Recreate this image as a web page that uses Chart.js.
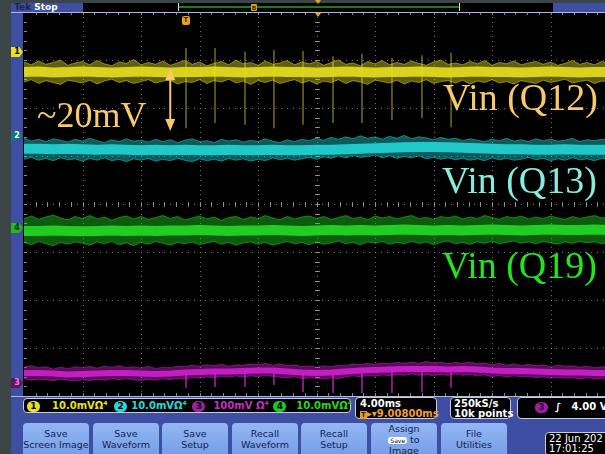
<!DOCTYPE html>
<html><head><meta charset="utf-8">
<script src="https://cdn.jsdelivr.net/npm/chart.js@4.4.1/dist/chart.umd.min.js"></script>
<style>
html,body{margin:0;padding:0}
body{width:605px;height:454px;overflow:hidden;position:relative;background:#3b4548;font-family:"DejaVu Sans",sans-serif}
.a{position:absolute}
#screen{left:23px;top:12px;width:582px;height:385px;background:#000}
#strip{left:11px;top:3px;width:12px;height:395px;background:#3e4ea2}
#bottom{left:11px;top:397px;width:594px;height:57px;background:#3e4ea2}
#tek{left:11px;top:3px;width:72px;height:10px;background:#3e4ea2;font:bold 9px "DejaVu Sans";line-height:9px;color:#fff}
#tek b{color:#1c2450}
#topblack{left:83px;top:3px;width:470px;height:9px;background:#000}
#topblue{left:553px;top:3px;width:52px;height:9px;background:#3e4ea2}
#rec{left:178px;top:3px;width:282px;height:8px;border-left:1px solid #ddd;border-right:1px solid #ddd;box-sizing:border-box}
#recline{left:179px;top:6px;width:280px;height:2px;background:#1f7a1f}
#topline{left:11px;top:12px;width:594px;height:1px;background:#aeb9dc}
#botline{left:11px;top:396px;width:594px;height:1px;background:#aeb9dc}
.mk{width:12px;height:10px;font:bold 8px "DejaVu Sans";line-height:10px;text-align:center;clip-path:polygon(0 0,70% 0,100% 50%,70% 100%,0 100%)}
.note{font-family:"Liberation Serif","DejaVu Serif",serif;line-height:1;white-space:nowrap}
.box{background:#000;border:1px solid #c5cde0;border-radius:4px;box-sizing:border-box;color:#fff;font:bold 10px "DejaVu Sans";white-space:nowrap}
.ci{display:inline-block;width:13px;height:11px;border-radius:6px;text-align:center;line-height:11px;color:#000;font-size:9px;vertical-align:middle}
.btn{top:423px;width:66px;height:40px;border-radius:4px;background:linear-gradient(#93b6f4,#6f98e4);color:#15224e;font:9.5px "DejaVu Sans";line-height:10.5px;text-align:center;padding-top:6px;box-sizing:border-box}
</style></head>
<body>
<div class="a" id="screen"></div>
<div class="a" id="strip"></div>
<div class="a" id="bottom"></div>
<div class="a" id="topblack"></div>
<div class="a" id="topblue"></div>
<div class="a" id="tek">&nbsp;<b>Tek</b> Stop</div>
<div class="a" id="rec"></div>
<div class="a" id="recline"></div>
<div class="a" style="left:251px;top:4px;width:6px;height:7px;background:#e8a020;border-radius:1px;font:bold 6px 'DejaVu Sans';line-height:7px;text-align:center;color:#4a2a00">B</div>
<div class="a" style="left:315px;top:0px;width:0;height:0;border-left:3px solid transparent;border-right:3px solid transparent;border-top:4px solid #f0a020"></div>
<div class="a" id="topline"></div>
<div class="a" id="botline"></div>

<canvas id="scope" class="a" style="left:24px;top:12px" width="585" height="384"></canvas>

<div class="a" style="left:315px;top:13px;width:0;height:0;border-left:3px solid transparent;border-right:3px solid transparent;border-top:4px solid #f0a020"></div>
<div class="a" style="left:182px;top:16px;width:8px;height:9px;background:#e8a020;border-radius:2px;font:bold 7px 'DejaVu Sans';line-height:9px;text-align:center;color:#3a2000">T</div>

<div class="a mk" style="left:11px;top:47px;background:#e8e020;color:#000">1</div>
<div class="a mk" style="left:11px;top:131px;background:#1d6f7c;color:#e6ffff">2</div>
<div class="a mk" style="left:11px;top:223px;background:#22b822;color:#003300">4</div>
<div class="a mk" style="left:11px;top:378px;background:#5a1a5a;color:#ff70ff">3</div>

<div class="a note" style="left:37px;top:97px;font-size:36px;color:#f7c96b">~20mV</div>
<div class="a note" style="left:443px;top:78px;font-size:38px;color:#f7c96b">Vin (Q12)</div>
<div class="a note" style="left:442px;top:161px;font-size:38px;color:#86ecdc">Vin (Q13)</div>
<div class="a note" style="left:442px;top:246px;font-size:38px;color:#20e620">Vin (Q19)</div>

<div class="a box" style="left:23px;top:398px;width:328px;height:15px;padding-left:3px;line-height:13px">
<span class="ci" style="background:#e8e020">1</span><span style="color:#e8e020;margin-left:12px">10.0mVΩ⁴</span>
<span class="ci" style="background:#22d8d8;margin-left:3px">2</span><span style="color:#22d8d8;margin-left:4px">10.0mVΩ⁴</span>
<span class="ci" style="background:#a020a0;margin-left:2px">3</span><span style="color:#c030c0;margin-left:8px">100mV Ω⁴</span>
<span class="ci" style="background:#22c822;margin-left:1px">4</span><span style="color:#22d822;margin-left:10px">10.0mVΩ⁴</span>
</div>
<div class="a box" style="left:355px;top:397px;width:82px;height:22px;padding-left:4px;line-height:10px;padding-top:1px">4.00ms<br><span style="color:#f0a030"><span style="background:#e8a020;color:#3a2000;font-size:7px;padding:0 1px">T</span>▸▾9.00800ms</span></div>
<div class="a box" style="left:450px;top:397px;width:61px;height:22px;padding-left:3px;line-height:10px;padding-top:1px">250kS/s<br>10k points</div>
<div class="a box" style="left:517px;top:397px;width:100px;height:22px;padding-left:17px;line-height:18px"><span class="ci" style="background:#a020a0;color:#300030">3</span>&nbsp;&nbsp;∫&nbsp;&nbsp;&nbsp;4.00 V</div>

<div class="a btn" style="left:23px">Save<br>Screen Image</div>
<div class="a btn" style="left:93px">Save<br>Waveform</div>
<div class="a btn" style="left:162px">Save<br>Setup</div>
<div class="a btn" style="left:232px">Recall<br>Waveform</div>
<div class="a btn" style="left:301px">Recall<br>Setup</div>
<div class="a btn" style="left:371px;padding-top:1px">Assign<br><span style="background:#fff;border-radius:3px;font-size:6px;padding:0 2px;color:#000">Save</span> to<br>Image</div>
<div class="a btn" style="left:441px">File<br>Utilities</div>
<div class="a box" style="left:545px;top:432px;width:70px;height:24px;padding-left:3px;line-height:10px;padding-top:1px;font-weight:normal;border-color:#ccc">22 Jun 202<br>17:01:25</div>

<script>
// Time base: 4.00 ms/div, 10 divisions. Vertical: 8 divisions, values in divisions.
const timeMs = [0,1,2,3,4,5,6,7,8,9,10,11,12,13,14,15,16,17,18,19,20,21,22,23,24,25,26,27,28,29,30,31,32,33,34,35,36,37,38,39,40];
// noise envelope sampled every 0.5 ms
const edgeTimeMs = [0,0.5,1,1.5,2,2.5,3,3.5,4,4.5,5,5.5,6,6.5,7,7.5,8,8.5,9,9.5,10,10.5,11,11.5,12,12.5,13,13.5,14,14.5,15,15.5,16,16.5,17,17.5,18,18.5,19,19.5,20,20.5,21,21.5,22,22.5,23,23.5,24,24.5,25,25.5,26,26.5,27,27.5,28,28.5,29,29.5,30,30.5,31,31.5,32,32.5,33,33.5,34,34.5,35,35.5,36,36.5,37,37.5,38,38.5,39,39.5,40];
const xGridMs = [4,8,12,16,20,24,28,32,36];
const yGridDiv = [-3,-2,-1,0,1,2,3];

// Channel 1 (yellow)
const ch1Hi = [2.96,2.90,2.98,2.91,2.95,3.00,2.89,2.94,2.97,2.90, 2.99,2.92,2.88,2.96,2.93,3.01,2.90,2.95,2.91,2.98, 2.89,2.94,2.99,2.91,2.96,2.88,2.93,2.97,2.90,3.00, 2.92,2.95,2.89,2.98,2.91,2.94,2.99,2.90,2.96,2.92, 2.97,2.89,2.95,3.00,2.91,2.94,2.88,2.97,2.92,2.99, 2.90,2.95,2.91,2.98,2.93,2.89,2.96,3.00,2.91,2.94, 2.90,2.97,2.92,2.99,2.89,2.95,2.92,2.98,2.90,2.94, 2.97,2.91,2.96,2.89,2.93,2.99,2.91,2.95,2.90,2.97, 2.93];
const ch1Lo = [2.54,2.59,2.51,2.57,2.53,2.49,2.58,2.55,2.52,2.58, 2.50,2.56,2.60,2.53,2.57,2.51,2.55,2.59,2.52,2.56, 2.58,2.50,2.55,2.53,2.59,2.51,2.57,2.54,2.60,2.52, 2.56,2.49,2.57,2.53,2.58,2.51,2.55,2.59,2.52,2.57, 2.50,2.56,2.53,2.59,2.51,2.57,2.54,2.49,2.58,2.55, 2.52,2.58,2.50,2.56,2.53,2.59,2.51,2.55,2.57,2.52, 2.58,2.50,2.56,2.53,2.59,2.52,2.55,2.50,2.57,2.54, 2.51,2.58,2.53,2.56,2.60,2.52,2.55,2.58,2.51,2.56, 2.55];
const ch1Mid = [2.75,2.76,2.74,2.75,2.76,2.75,2.74,2.75,2.76,2.75,2.74,2.75,2.75,2.76,2.75,2.74,2.75,2.76,2.75,2.75,2.74,2.75,2.76,2.75,2.74,2.75,2.75,2.76,2.75,2.74,2.75,2.76,2.75,2.75,2.74,2.75,2.76,2.75,2.74,2.75,2.75];

// Channel 2 (cyan)
const ch2Hi = [1.37,1.31,1.35,1.30,1.36,1.33,1.29,1.35,1.31,1.37, 1.32,1.28,1.34,1.30,1.36,1.31,1.33,1.29,1.35,1.30, 1.34,1.28,1.33,1.36,1.30,1.32,1.28,1.35,1.31,1.34, 1.29,1.33,1.30,1.36,1.31,1.28,1.34,1.30,1.35,1.32, 1.37,1.33,1.39,1.35,1.40,1.36,1.42,1.37,1.40,1.35, 1.41,1.37,1.43,1.36,1.40,1.38,1.34,1.39,1.35,1.37, 1.32,1.36,1.33,1.30,1.35,1.32,1.37,1.31,1.34,1.30, 1.36,1.32,1.35,1.31,1.33,1.37,1.30,1.34,1.32,1.35, 1.33];
const ch2Lo = [0.93,0.97,0.91,0.95,0.90,0.96,0.92,0.94,0.89,0.95, 0.91,0.96,0.90,0.93,0.88,0.94,0.91,0.95,0.89,0.93, 0.90,0.95,0.91,0.88,0.94,0.90,0.93,0.89,0.95,0.91, 0.94,0.89,0.93,0.90,0.96,0.92,0.95,0.91,0.94,0.97, 0.93,0.98,0.95,1.00,0.96,1.01,0.97,0.99,1.02,0.96, 1.00,0.95,0.99,0.96,1.00,0.94,0.97,0.93,0.96,0.92, 0.95,0.91,0.94,0.90,0.96,0.92,0.95,0.91,0.93,0.97, 0.92,0.95,0.90,0.94,0.91,0.96,0.92,0.94,0.90,0.95, 0.93];
const ch2Mid = [1.15,1.15,1.14,1.15,1.14,1.13,1.14,1.13,1.12,1.13,1.12,1.13,1.12,1.12,1.13,1.12,1.12,1.13,1.12,1.12,1.13,1.13,1.14,1.15,1.16,1.17,1.18,1.19,1.19,1.18,1.17,1.16,1.15,1.14,1.14,1.13,1.13,1.14,1.13,1.13,1.13];

// Channel 4 (green)
const ch4Hi = [-0.30,-0.25,-0.32,-0.27,-0.23,-0.29,-0.33,-0.26,-0.30,-0.24, -0.31,-0.27,-0.34,-0.28,-0.25,-0.31,-0.26,-0.32,-0.28,-0.24, -0.30,-0.26,-0.33,-0.29,-0.25,-0.31,-0.27,-0.34,-0.28,-0.26, -0.32,-0.27,-0.30,-0.24,-0.29,-0.33,-0.26,-0.31,-0.27,-0.25, -0.30,-0.26,-0.32,-0.28,-0.24,-0.30,-0.27,-0.33,-0.25,-0.29, -0.26,-0.31,-0.27,-0.24,-0.30,-0.28,-0.32,-0.26,-0.29,-0.25, -0.31,-0.27,-0.30,-0.24,-0.28,-0.32,-0.26,-0.29,-0.25,-0.31, -0.27,-0.30,-0.25,-0.29,-0.32,-0.26,-0.30,-0.27,-0.24,-0.29, -0.27];
const ch4Lo = [-0.80,-0.85,-0.78,-0.83,-0.87,-0.80,-0.84,-0.79,-0.82,-0.86, -0.79,-0.83,-0.78,-0.85,-0.81,-0.87,-0.80,-0.84,-0.78,-0.82, -0.86,-0.80,-0.83,-0.79,-0.85,-0.81,-0.78,-0.84,-0.80,-0.86, -0.81,-0.79,-0.84,-0.80,-0.86,-0.82,-0.78,-0.83,-0.80,-0.85, -0.79,-0.84,-0.81,-0.77,-0.83,-0.80,-0.85,-0.79,-0.82,-0.78, -0.84,-0.80,-0.83,-0.78,-0.82,-0.79,-0.85,-0.80,-0.77,-0.83, -0.80,-0.84,-0.79,-0.82,-0.78,-0.83,-0.80,-0.77,-0.82,-0.79, -0.83,-0.78,-0.81,-0.84,-0.79,-0.82,-0.78,-0.81,-0.79,-0.83, -0.80];
const ch4Mid = [-0.56,-0.56,-0.55,-0.56,-0.57,-0.56,-0.55,-0.56,-0.55,-0.56,-0.55,-0.55,-0.54,-0.55,-0.56,-0.55,-0.55,-0.54,-0.55,-0.56,-0.55,-0.54,-0.55,-0.54,-0.55,-0.54,-0.53,-0.54,-0.55,-0.54,-0.55,-0.54,-0.53,-0.54,-0.55,-0.54,-0.53,-0.54,-0.54,-0.53,-0.54];

// Channel 3 (magenta)
const ch3Hi = [-3.40,-3.37,-3.41,-3.39,-3.44,-3.40,-3.43,-3.39,-3.41,-3.38, -3.42,-3.38,-3.40,-3.37,-3.41,-3.39,-3.42,-3.38,-3.43,-3.40, -3.41,-3.38,-3.39,-3.36,-3.38,-3.35,-3.37,-3.34,-3.38,-3.35, -3.36,-3.33,-3.35,-3.32,-3.36,-3.33,-3.37,-3.35,-3.39,-3.37, -3.40,-3.37,-3.39,-3.36,-3.37,-3.33,-3.35,-3.32,-3.34,-3.31, -3.33,-3.30,-3.32,-3.29,-3.32,-3.28,-3.31,-3.29,-3.33,-3.30, -3.32,-3.29,-3.33,-3.31,-3.35,-3.32,-3.36,-3.33,-3.37,-3.34, -3.37,-3.35,-3.39,-3.36,-3.38,-3.37,-3.40,-3.38,-3.41,-3.39, -3.40];
const ch3Lo = [-3.64,-3.67,-3.65,-3.66,-3.68,-3.65,-3.67,-3.69,-3.66,-3.68, -3.65,-3.67,-3.64,-3.66,-3.63,-3.66,-3.68,-3.65,-3.67,-3.64, -3.66,-3.63,-3.65,-3.61,-3.63,-3.60,-3.62,-3.59,-3.61,-3.58, -3.61,-3.58,-3.60,-3.57,-3.59,-3.61,-3.62,-3.60,-3.64,-3.62, -3.63,-3.65,-3.62,-3.64,-3.60,-3.58,-3.60,-3.57,-3.59,-3.56, -3.58,-3.55,-3.57,-3.54,-3.57,-3.55,-3.58,-3.55,-3.57,-3.54, -3.57,-3.55,-3.58,-3.56,-3.60,-3.57,-3.61,-3.58,-3.60,-3.59, -3.62,-3.60,-3.63,-3.61,-3.63,-3.62,-3.65,-3.62,-3.64,-3.63, -3.64];
const ch3Mid = [-3.52,-3.52,-3.53,-3.55,-3.54,-3.53,-3.52,-3.52,-3.53,-3.54,-3.53,-3.51,-3.50,-3.49,-3.49,-3.48,-3.47,-3.47,-3.49,-3.51,-3.52,-3.51,-3.49,-3.47,-3.46,-3.45,-3.44,-3.44,-3.44,-3.45,-3.44,-3.45,-3.47,-3.48,-3.48,-3.49,-3.50,-3.51,-3.51,-3.52,-3.52];

// Switching glitches
const spikeTimes   = [11.08,13.06,15.11,17.09,19.08,21.13,23.11,25.16,27.21,29.20];
const ch1SpikeTop  = [3.25,3.25,3.17,3.21,3.19,3.08,3.13,3.04,3.10,3.15];
const ch1SpikeLow  = [1.58,1.69,1.65,1.58,1.65,1.69,1.69,1.75,1.79,1.60];
const ch3SpikeTop  = [-3.52,-3.50,-3.48,-3.47,-3.51,-3.51,-3.47,-3.45,-3.44,-3.45];
const ch3SpikeLow  = [-3.83,-3.81,-3.81,-3.77,-3.92,-3.94,-3.94,-3.94,-3.92,-3.83];

// Amplitude marker (ms, div)
const arrowAt = 10.0, arrowTop = 2.83, arrowBottom = 1.52;

const pts = (t, arr) => arr.map((v, i) => ({x: t[i], y: v}));
const spikes = (top, low) => {
  const out = [];
  spikeTimes.forEach((t, i) => { out.push({x: t, y: top[i]}, {x: t, y: low[i]}, {x: t, y: null}); });
  return out;
};

function trace(hi, lo, mid, rgb, core) {
  return [
    {data: pts(edgeTimeMs, hi), borderColor: `rgba(${rgb},0.5)`, borderWidth: 1, fill: false},
    {data: pts(edgeTimeMs, lo), borderColor: `rgba(${rgb},0.5)`, borderWidth: 1, fill: '-1', backgroundColor: `rgba(${rgb},0.42)`},
    {data: pts(timeMs, mid), borderColor: `rgba(${rgb},0.9)`, borderWidth: core, fill: false}
  ];
}

const graticule = {
  id: 'graticule',
  beforeDatasetsDraw(chart) {
    const {ctx, chartArea: a, scales: {x, y}} = chart;
    ctx.save();
    ctx.fillStyle = 'rgba(150,150,150,0.75)';
    xGridMs.forEach(t => {
      const px = Math.round(x.getPixelForValue(t));
      const step = (y.getPixelForValue(-4) - y.getPixelForValue(4)) / 80;
      for (let k = 1; k < 80; k++) ctx.fillRect(px, Math.round(a.top + k * step), 1, 1);
    });
    yGridDiv.forEach(d => {
      const py = Math.round(y.getPixelForValue(d));
      const step = (x.getPixelForValue(40) - x.getPixelForValue(0)) / 100;
      for (let k = 1; k < 100; k++) ctx.fillRect(Math.round(a.left + k * step), py, 1, 1);
    });
    ctx.fillStyle = 'rgba(170,170,170,0.8)';
    const cx = Math.round(x.getPixelForValue(20)), cy = Math.round(y.getPixelForValue(0));
    for (let k = 1; k < 50; k++) {
      const px = Math.round(x.getPixelForValue(k * 0.8));
      ctx.fillRect(px, cy - 2, 1, 5);
      ctx.fillRect(px, a.top, 1, 3);
      ctx.fillRect(px, a.bottom - 3, 1, 3);
    }
    for (let k = 1; k < 40; k++) {
      const py = Math.round(y.getPixelForValue(-4 + k * 0.2));
      ctx.fillRect(cx - 2, py, 5, 1);
      ctx.fillRect(a.left, py, 3, 1);
    }
    ctx.restore();
  },
  afterDatasetsDraw(chart) {
    const {ctx, scales: {x, y}} = chart;
    const px = x.getPixelForValue(arrowAt);
    const t = y.getPixelForValue(arrowTop), b = y.getPixelForValue(arrowBottom);
    ctx.save();
    ctx.strokeStyle = ctx.fillStyle = '#f7c96b';
    ctx.lineWidth = 2;
    ctx.beginPath(); ctx.moveTo(px, t + 8); ctx.lineTo(px, b - 8); ctx.stroke();
    ctx.beginPath(); ctx.moveTo(px, t); ctx.lineTo(px - 5, t + 12); ctx.lineTo(px + 5, t + 12); ctx.closePath(); ctx.fill();
    ctx.beginPath(); ctx.moveTo(px, b); ctx.lineTo(px - 5, b - 12); ctx.lineTo(px + 5, b - 12); ctx.closePath(); ctx.fill();
    ctx.restore();
  }
};

new Chart(document.getElementById('scope'), {
  type: 'line',
  data: {
    datasets: [
      ...trace(ch1Hi, ch1Lo, ch1Mid, '230,224,30', 10),
      ...trace(ch2Hi, ch2Lo, ch2Mid, '34,212,212', 10),
      ...trace(ch4Hi, ch4Lo, ch4Mid, '34,218,34', 10),
      ...trace(ch3Hi, ch3Lo, ch3Mid, '208,32,208', 6),
      {data: spikes(ch1SpikeTop, ch1SpikeLow), borderColor: 'rgba(150,148,40,0.75)', borderWidth: 1.5, fill: false, spanGaps: false},
      {data: spikes(ch3SpikeTop, ch3SpikeLow), borderColor: 'rgba(200,40,200,0.85)', borderWidth: 1.5, fill: false, spanGaps: false}
    ]
  },
  options: {
    responsive: false,
    animation: false,
    devicePixelRatio: 1,
    layout: {padding: 0},
    elements: {point: {radius: 0}, line: {tension: 0}},
    plugins: {legend: {display: false}, tooltip: {enabled: false}},
    scales: {
      x: {type: 'linear', min: 0, max: 40, display: false},
      y: {type: 'linear', min: -4, max: 4, display: false}
    }
  },
  plugins: [graticule]
});
</script>
</body></html>
